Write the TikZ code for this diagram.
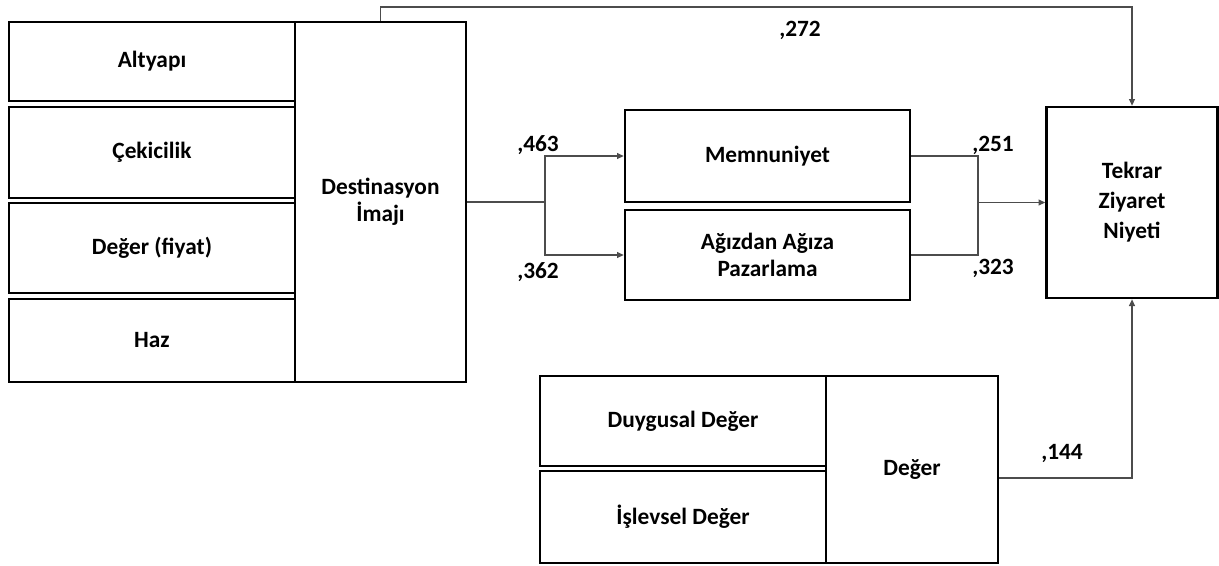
\documentclass[tikz,border=0pt]{standalone}
\usepackage{fontspec}
\setmainfont{Carlito}
\usetikzlibrary{arrows.meta}
\begin{document}
\begin{tikzpicture}[x=0.75pt,y=-0.75pt,
  box/.style={draw=black,line width=2pt,inner sep=0pt,align=center,font=\fontsize{17.5}{20.5}\selectfont\bfseries},
  conn/.style={draw=black!70,line width=0.9pt},
  arr/.style={conn,-{Triangle[length=5pt,width=4.5pt]}},
  lbl/.style={font=\fontsize{17.5}{20}\selectfont\bfseries,inner sep=0pt}]
\useasboundingbox (0,0) rectangle (1219,565);
% left stack
\node[box,minimum width=286*0.75pt,minimum height=79*0.75pt] (alt) at (152,61.5) {Altyapı};
\node[box,minimum width=286*0.75pt,minimum height=91*0.75pt] (cek) at (152,152.5) {Çekicilik};
\node[box,minimum width=286*0.75pt,minimum height=90*0.75pt] (dfi) at (152,248) {Değer (fiyat)};
\node[box,minimum width=286*0.75pt,minimum height=83*0.75pt] (haz) at (152,340.5) {Haz};
\node[box,minimum width=171*0.75pt,minimum height=360*0.75pt] (dest) at (380.5,202) {Destinasyon\\İmajı};
% middle
\node[box,minimum width=285*0.75pt,minimum height=92*0.75pt] (mem) at (767.5,156) {Memnuniyet};
\node[box,minimum width=285*0.75pt,minimum height=90*0.75pt] (agz) at (767.5,255) {Ağızdan Ağıza\\Pazarlama};
% right
\node[box,minimum width=171*0.75pt,minimum height=191*0.75pt,font=\fontsize{17.5}{22.5}\selectfont\bfseries] (tek) at (1132,202.5) {Tekrar\\Ziyaret\\Niyeti};
% bottom
\node[box,minimum width=286*0.75pt,minimum height=90*0.75pt] (duy) at (683,421) {Duygusal Değer};
\node[box,minimum width=286*0.75pt,minimum height=92*0.75pt] (isl) at (683,517) {İşlevsel Değer};
\node[box,minimum width=172*0.75pt,minimum height=187*0.75pt] (dg) at (912,469.5) {Değer};
% connectors
\coordinate (tp) at (760,7);
\draw[arr] (dest.north) |- (tp) -| (tek.north);
\coordinate (j1) at (545,202);
\draw[conn] (dest.east) -- (j1);
\draw[arr] (j1) |- (mem.west);
\draw[arr] (j1) |- (agz.west);
\coordinate (j2) at (978,202.5);
\draw[conn] (mem.east) -| (j2);
\draw[conn] (agz.east) -| (j2);
\draw[arr] (j2) -- (tek.west |- j2);
\coordinate (j3) at (1132,478);
\draw[arr] (dg.east |- j3) -- (j3) -- (tek.south);
% labels
\node[lbl] (l272) at (800,30) {,272};
\node[lbl] (l463) at (538,145) {,463};
\node[lbl] (l362) at (538,272) {,362};
\node[lbl] (l251) at (993,145) {,251};
\node[lbl] (l323) at (993,268) {,323};
\node[lbl] (l144) at (1062,453) {,144};
\end{tikzpicture}
\end{document}
